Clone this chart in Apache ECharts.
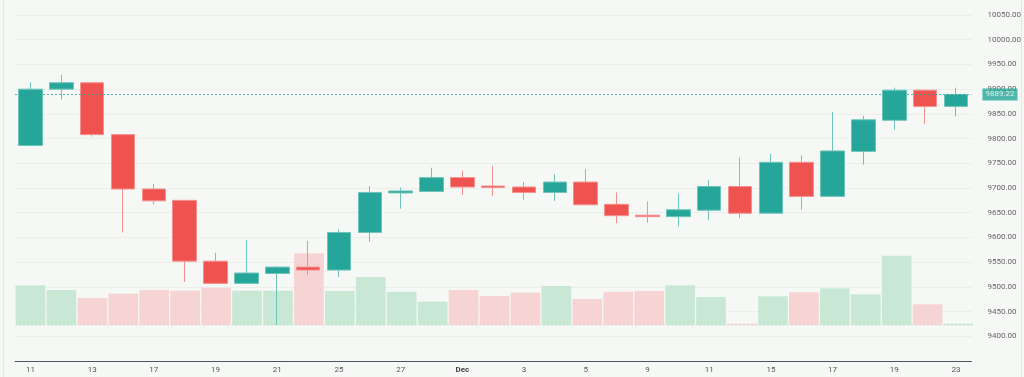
<!DOCTYPE html>
<html>
<head>
<meta charset="utf-8">
<script src="https://cdn.jsdelivr.net/npm/echarts@6/dist/echarts.min.js"></script>
<style>
  html, body { margin: 0; padding: 0; background: #f6f8f6; }
  #chart { width: 1024px; height: 377px; }
</style>
</head>
<body>
<div id="chart"></div>
<script>
// trading days (month-day)
var dates = ['11-11','11-12','11-13','11-14','11-17','11-18','11-19','11-20','11-21','11-24',
             '11-25','11-26','11-27','11-28','12-01','12-02','12-03','12-04','12-05','12-08',
             '12-09','12-10','12-11','12-12','12-15','12-16','12-17','12-18','12-19','12-22','12-23'];
var opens  = [9786, 9900, 9913, 9808, 9698, 9675, 9552, 9507, 9527, 9540,
              9534, 9610, 9690, 9693, 9721, 9704, 9702, 9691, 9712, 9667,
              9645, 9642, 9655, 9703, 9649, 9752, 9683, 9774, 9837, 9898, 9865];
var closes = [9900, 9913, 9808, 9698, 9674, 9552, 9507, 9528, 9540, 9534,
              9610, 9691, 9694, 9721, 9702, 9701, 9691, 9712, 9666, 9644,
              9642, 9656, 9703, 9649, 9752, 9683, 9775, 9838, 9898, 9865, 9889.22];
var lows   = [9786, 9879, 9804, 9610, 9667, 9510, 9507, 9507, 9422, 9524,
              9520, 9591, 9658, 9693, 9686, 9683, 9676, 9674, 9666, 9629,
              9630, 9622, 9635, 9639, 9649, 9656, 9683, 9747, 9818, 9829, 9845];
var highs  = [9914, 9929, 9914, 9808, 9708, 9675, 9569, 9595, 9542, 9593,
              9616, 9704, 9701, 9741, 9735, 9745, 9712, 9728, 9738, 9691,
              9673, 9689, 9716, 9762, 9769, 9766, 9854, 9846, 9903, 9899, 9903];
var volumes = [397, 350, 270, 313, 350, 343, 373, 343, 343, 717,
               340, 480, 333, 233, 350, 290, 323, 390, 260, 333,
               340, 397, 280, 13, 287, 327, 367, 307, 693, 207, 13];
var lastPrice = 9889.22;
var monthNames = ['Jan','Feb','Mar','Apr','May','Jun','Jul','Aug','Sep','Oct','Nov','Dec'];

var upColor = '#26a69a', downColor = '#ef5350';
var upWick = '#6fc4ba', downWick = '#f4908e';
var upVol = '#c9e7d5', downVol = '#f6d4d3';

var candleData = [];
var volData = [];
for (var i = 0; i < dates.length; i++) {
  candleData.push([opens[i], closes[i], lows[i], highs[i]]);
  volData.push({
    value: volumes[i],
    itemStyle: { color: closes[i] >= opens[i] ? upVol : downVol }
  });
}

var chart = echarts.init(document.getElementById('chart'));

var option = {
  animation: false,
  backgroundColor: '#f6f8f6',
  graphic: [
    { type: 'rect', shape: { x: 3, y: 0, width: 1, height: 377 }, style: { fill: '#e6e8e6' } },
    { type: 'rect', shape: { x: 1021, y: 0, width: 1, height: 377 }, style: { fill: '#e6e8e6' } }
  ],
  grid: [
    { left: 15, right: 50, top: 15, bottom: 16 },
    { left: 15, right: 50, top: 225, bottom: 52 }
  ],
  xAxis: [
    {
      type: 'category',
      gridIndex: 0,
      data: dates,
      boundaryGap: true,
      axisLine: { lineStyle: { color: '#50535e', width: 1 } },
      axisTick: { show: false },
      splitLine: { show: false },
      axisLabel: {
        interval: 1,
        margin: 5,
        fontSize: 8,
        fontFamily: 'Roboto',
        color: '#555',
        formatter: function (v) {
          var p = v.split('-');
          if (p[1] === '01') return '{m|' + monthNames[+p[0] - 1] + '}';
          return String(+p[1]);
        },
        rich: { m: { fontWeight: 'bold', fontSize: 8, fontFamily: 'Roboto', color: '#444' } }
      }
    },
    {
      type: 'category',
      gridIndex: 1,
      data: dates,
      boundaryGap: true,
      axisLine: { show: false },
      axisTick: { show: false },
      axisLabel: { show: false },
      splitLine: { show: false }
    }
  ],
  yAxis: [
    {
      type: 'value',
      gridIndex: 0,
      position: 'right',
      min: 9350,
      max: 10050,
      interval: 50,
      axisLine: { show: false },
      axisTick: { show: false },
      splitLine: { lineStyle: { color: '#eceeec', width: 1 } },
      axisLabel: {
        showMinLabel: false,
        margin: 16,
        fontSize: 8,
        fontFamily: 'Roboto',
        color: '#666',
        formatter: function (v) { return v.toFixed(2); }
      }
    },
    {
      type: 'value',
      gridIndex: 1,
      min: 0,
      max: 1000,
      show: false,
      splitLine: { show: false }
    }
  ],
  series: [
    {
      type: 'bar',
      xAxisIndex: 1,
      yAxisIndex: 1,
      data: volData,
      barWidth: '96%',
      markLine: {
        silent: true,
        symbol: 'none',
        data: [{ yAxis: 0 }],
        label: { show: false },
        lineStyle: { color: '#d2e9e0', type: [2, 2], width: 1 }
      }
    },
    {
      type: 'candlestick',
      xAxisIndex: 0,
      yAxisIndex: 0,
      data: candleData,
      barWidth: '78%',
      itemStyle: {
        color: upColor,
        color0: downColor,
        borderColor: upWick,
        borderColor0: downWick,
        borderWidth: 1
      },
      markLine: {
        silent: true,
        symbol: 'none',
        data: [{ yAxis: lastPrice }],
        lineStyle: { color: upColor, type: [2, 2], width: 1, opacity: 0.8 },
        label: {
          position: 'end',
          distance: 11,
          formatter: function (p) { return p.value.toFixed(2); },
          backgroundColor: upColor,
          color: '#fff',
          fontSize: 8,
          fontFamily: 'Roboto',
          padding: [2, 3]
        }
      }
    }
  ]
};

chart.setOption(option);
</script>
</body>
</html>
